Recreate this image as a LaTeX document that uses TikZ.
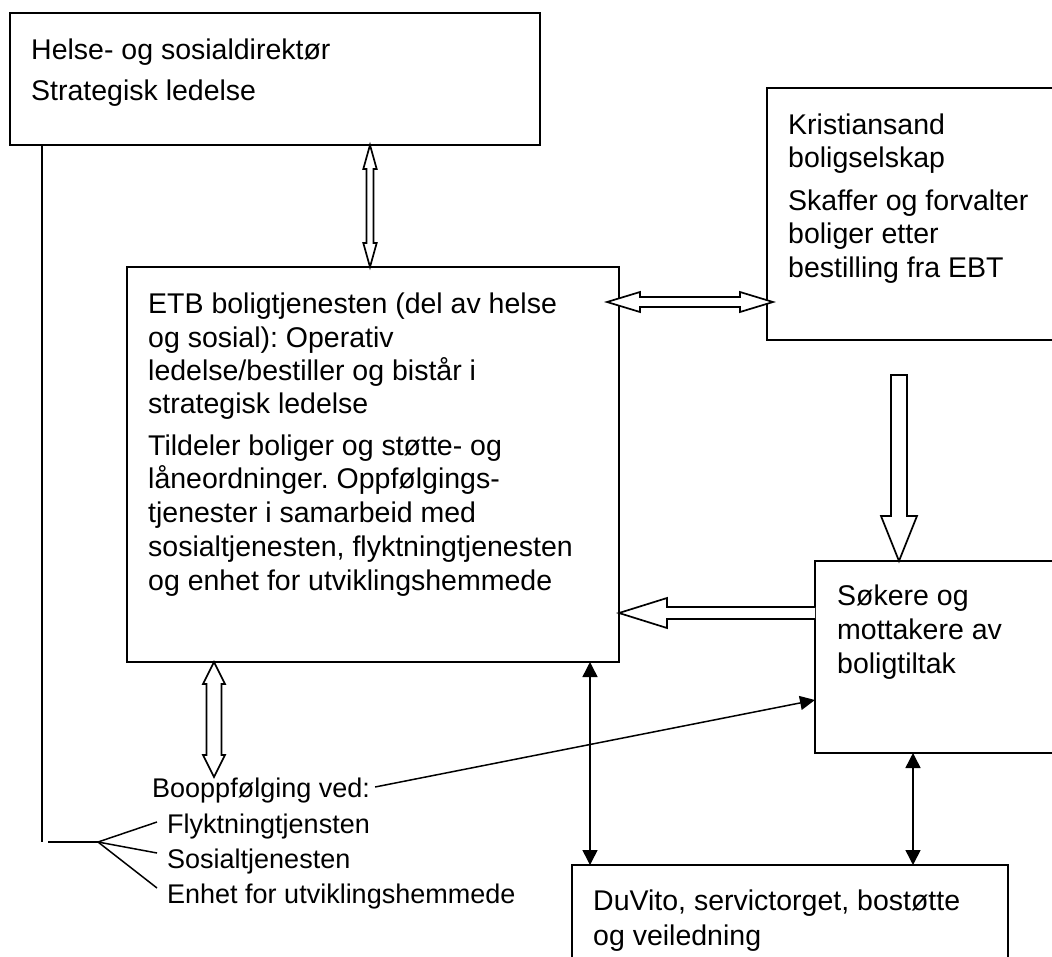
\documentclass[tikz,border=0pt]{standalone}
\usepackage{fontspec}
\setmainfont{Liberation Sans}
\usetikzlibrary{arrows.meta,calc}
\frenchspacing
\newcommand\vdblarrow[5]{%
 \draw[blockarr] (#1) -- ($(#1)+(#4,#5)$) -- ($(#1)+(#3,#5)$) -- ($(#2)+(#3,-#5)$) -- ($(#2)+(#4,-#5)$) -- (#2) -- ($(#2)+(-#4,-#5)$) -- ($(#2)+(-#3,-#5)$) -- ($(#1)+(-#3,#5)$) -- ($(#1)+(-#4,#5)$) -- cycle;}
\newcommand\hdblarrow[5]{%
 \draw[blockarr] (#1) -- ($(#1)+(#5,-#4)$) -- ($(#1)+(#5,-#3)$) -- ($(#2)+(-#5,-#3)$) -- ($(#2)+(-#5,-#4)$) -- (#2) -- ($(#2)+(-#5,#4)$) -- ($(#2)+(-#5,#3)$) -- ($(#1)+(#5,#3)$) -- ($(#1)+(#5,#4)$) -- cycle;}
\begin{document}
\frenchspacing
\begin{tikzpicture}[x=1pt,y=-1pt,
  box/.style={draw, line width=1.6pt, rectangle, inner sep=0pt, outer sep=0pt, anchor=north west},
  txt/.style={anchor=base west, inner sep=0pt, font=\fontsize{28.5}{34}\selectfont\frenchspacing},
  smalltxt/.style={anchor=base west, inner sep=0pt, font=\fontsize{27}{32}\selectfont\frenchspacing},
  blockarr/.style={draw, line width=1.7pt, fill=white, line join=miter},
  solidarr/.style={draw, line width=1.5pt, {Triangle[length=15pt,width=15pt]}-{Triangle[length=15pt,width=15pt]}},
  onearr/.style={draw, line width=1.5pt, -{Triangle[length=15pt,width=14pt]}},
  plain/.style={draw, line width=1.5pt}]
\useasboundingbox (0,0) rectangle (1052,956);
\clip (0,0) rectangle (1052,956);
\fill[white] (0,0) rectangle (1052,956);

% boxes
\node[box, minimum width=530pt, minimum height=132pt] (top) at (10,13) {};
\node[box, minimum width=492pt, minimum height=395pt] (etb) at (127,267) {};
\node[box, minimum width=340pt, minimum height=252pt] (kris) at (767,88) {};
\node[box, minimum width=290pt, minimum height=192pt] (sok) at (815,561) {};
\node[box, minimum width=436pt, minimum height=140pt] (duv) at (572,865) {};

% texts
\node[txt] (t1) at (31,59) {Helse- og sosialdirektør};
\node[txt] (t2) at (31,100) {Strategisk ledelse};

\node[txt] (e1) at (148,313) {ETB boligtjenesten (del av helse};
\node[txt] (e2) at (148,347) {og sosial): Operativ};
\node[txt] (e3) at (148,380) {ledelse/bestiller og bistår i};
\node[txt] (e4) at (148,413) {strategisk ledelse};
\node[txt] (e5) at (148,455) {Tildeler boliger og støtte- og};
\node[txt] (e6) at (148,488) {låneordninger. Oppfølgings-};
\node[txt] (e7) at (148,522) {tjenester i samarbeid med};
\node[txt] (e8) at (148,556) {sosialtjenesten, flyktningtjenesten};
\node[txt] (e9) at (148,590) {og enhet for utviklingshemmede};

\node[txt] (k1) at (788,134) {Kristiansand};
\node[txt] (k2) at (788,167) {boligselskap};
\node[txt] (k3) at (788,210) {Skaffer og forvalter};
\node[txt] (k4) at (788,243) {boliger etter};
\node[txt] (k5) at (788,277) {bestilling fra EBT};

\node[txt] (s1) at (837,605) {Søkere og};
\node[txt] (s2) at (837,639) {mottakere av};
\node[txt] (s3) at (837,673) {boligtiltak};

\node[txt] (d1) at (593,910) {DuVito, servictorget, bostøtte};
\node[txt] (d2) at (593,945) {og veiledning};

\node[smalltxt] (boo) at (152,797) {Booppfølging ved:};
\node[smalltxt] (b1) at (167,833) {Flyktningtjensten};
\node[smalltxt] (b2) at (167,868) {Sosialtjenesten};
\node[smalltxt] (b3) at (167,903) {Enhet for utviklingshemmede};

% hollow double arrows
\coordinate (a1) at (370,0 |- top.south);
\coordinate (a2) at (370,0 |- etb.north);
\vdblarrow{a1}{a2}{3.5}{6.7}{24}
\coordinate (h1) at (607,302);
\coordinate (h2) at (773,302);
\hdblarrow{h1}{h2}{5}{10}{33}
\coordinate (v1) at (214,0 |- etb.south);
\coordinate (v2) at (214,777);
\vdblarrow{v1}{v2}{7.5}{11}{22}

% down arrow Kristiansand -> Søkere
\coordinate (kd) at (899,375);
\coordinate (kt) at (kd |- sok.north);
\draw[blockarr] ($(kd)+(-8,0)$) -- ($(kd)+(8,0)$) -- ($(kt)+(8,-45)$) -- ($(kt)+(18,-45)$) -- (kt) -- ($(kt)+(-18,-45)$) -- ($(kt)+(-8,-45)$) -- cycle;

% left arrow Søkere -> ETB
\coordinate (lt) at (etb.east |- 0,613);
\coordinate (ls) at (sok.west |- 0,613);
\draw[blockarr] ($(ls)+(0,-6)$) -- ($(lt)+(48,-6)$) -- ($(lt)+(48,-15)$) -- (lt) -- ($(lt)+(48,15)$) -- ($(lt)+(48,6)$) -- ($(ls)+(0,6)$);

% solid double arrows
\coordinate (p1) at (590,0 |- etb.south);
\coordinate (p2) at (590,0 |- duv.north);
\draw[solidarr] (p1) -- (p2);
\coordinate (q1) at (913,0 |- sok.south);
\coordinate (q2) at (913,0 |- duv.north);
\draw[solidarr] (q1) -- (q2);

% Booppfølging -> Søkere
\coordinate (bs) at (sok.west |- 0,700);
\draw[onearr] ($(boo.base east)+(5,-10)$) -- (bs);

% left bracket line
\coordinate (l1) at (42,0 |- top.south);
\coordinate (l2) at (42,842);
\draw[plain] (l1) -- (l2);
\coordinate (f0) at (48,842);
\coordinate (f1) at (98,842);
\draw[plain] (f0) -- (f1);
\draw[plain] (f1) -- ($(b1.base west)+(-10,-11)$);
\draw[plain] (f1) -- ($(b2.base west)+(-10,-15)$);
\draw[plain] (f1) -- ($(b3.base west)+(-10,-15)$);
\end{tikzpicture}
\end{document}
